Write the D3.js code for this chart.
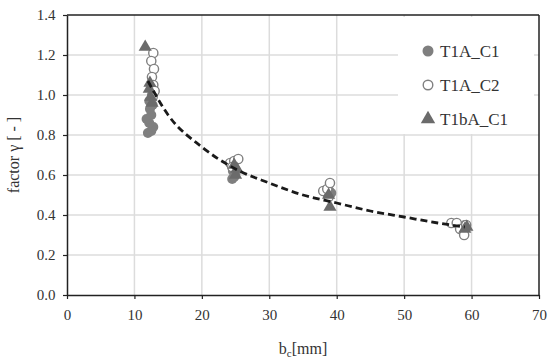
<!DOCTYPE html>
<html><head><meta charset="utf-8">
<script src="https://cdn.jsdelivr.net/npm/d3@7"></script>
<style>body{margin:0;background:#fff}svg{display:block}</style>
</head><body>
<svg id="c" width="550" height="362"></svg>
<script>
const xTicks = [0,10,20,30,40,50,60,70];
const yTicks = [0,0.2,0.4,0.6,0.8,1.0,1.2,1.4];
const seriesNames = ["T1A_C1","T1A_C2","T1bA_C1"];
const t1aC1 = [[12.0,0.81],[12.5,0.82],[12.8,0.84],[12.2,0.86],[11.8,0.88],[12.5,0.90],[12.3,0.93],[12.7,0.95],[12.2,0.97],[12.6,1.00],
  [24.5,0.58],[24.8,0.59],[25.0,0.61],[24.6,0.62],
  [38.7,0.50],[39.2,0.51],[38.9,0.52],
  [58.6,0.34],[59.0,0.35]];
const t1aC2 = [[12.8,1.21],[12.5,1.17],[12.9,1.13],[12.6,1.09],[12.8,1.05],[13.0,1.02],[12.7,0.99],
  [24.2,0.66],[24.8,0.67],[25.4,0.68],[24.5,0.64],
  [38.0,0.52],[38.6,0.53],[39.0,0.56],[38.8,0.49],
  [57.0,0.36],[57.8,0.36],[58.3,0.33],[58.9,0.30],[59.2,0.35]];
const t1bAC1 = [[11.6,1.24],[12.2,1.03],[12.4,0.99],[12.6,0.96],[12.3,1.06],
  [25.0,0.60],[25.2,0.63],[24.8,0.65],
  [39.0,0.44],[38.8,0.50],
  [59.0,0.33],[59.3,0.34]];
const trend = [[12,1.07],[15,0.90],[20,0.74],[25,0.63],[30,0.56],[35,0.50],[40,0.46],[45,0.42],[50,0.39],[55,0.36],[59,0.34]];

const svg = d3.select("#c");
const L=67,R=539,T=15,B=295;
const x = d3.scaleLinear().domain([0,70]).range([L,R]);
const y = d3.scaleLinear().domain([0,1.4]).range([B,T]);
const font = "'Liberation Serif','DejaVu Serif',serif";

// grid
svg.append("g").selectAll("line").data(xTicks.slice(1,-1)).join("line")
  .attr("x1",d=>x(d)).attr("x2",d=>x(d)).attr("y1",T).attr("y2",B)
  .attr("stroke","#dcdcdc").attr("stroke-width",1.5);
svg.append("g").selectAll("line").data(yTicks.slice(1,-1)).join("line")
  .attr("x1",L).attr("x2",R).attr("y1",d=>y(d)).attr("y2",d=>y(d))
  .attr("stroke","#dcdcdc").attr("stroke-width",1.5);

// legend background
svg.append("rect").attr("x",398).attr("y",T+2).attr("width",R-398-5).attr("height",117).attr("fill","#fff");

// axes
const xa = svg.append("g").attr("transform",`translate(0,${B})`)
  .call(d3.axisBottom(x).tickValues(xTicks).tickFormat(d3.format("d")).tickSize(4).tickSizeOuter(0));
const ya = svg.append("g").attr("transform",`translate(${L},0)`)
  .call(d3.axisLeft(y).tickValues(yTicks).tickFormat(d3.format(".1f")).tickSize(4).tickSizeOuter(0));
[xa,ya].forEach(a=>{
  a.select(".domain").attr("stroke","#222").attr("stroke-width",1.5);
  a.selectAll(".tick line").attr("stroke","#222").attr("stroke-width",1.2);
  a.selectAll("text").attr("font-family",font).attr("font-size",15).attr("fill","#333");
});
xa.selectAll("text").attr("dy","1.2em");
ya.selectAll("text").attr("dx","-0.3em");
// frame top/right
svg.append("line").attr("x1",L).attr("x2",R).attr("y1",T).attr("y2",T).attr("stroke","#222").attr("stroke-width",1.5);
svg.append("line").attr("x1",R).attr("x2",R).attr("y1",T).attr("y2",B).attr("stroke","#222").attr("stroke-width",1.5);

// data
const tri = d3.symbol().type(d3.symbolTriangle).size(75);
svg.append("g").selectAll("circle").data(t1aC1).join("circle")
  .attr("cx",d=>x(d[0])).attr("cy",d=>y(d[1])).attr("r",5).attr("fill","#7f7f7f");
svg.append("g").selectAll("circle").data(t1aC2).join("circle")
  .attr("cx",d=>x(d[0])).attr("cy",d=>y(d[1])).attr("r",4.6).attr("fill","#fff").attr("stroke","#808080").attr("stroke-width",1.4);
svg.append("g").selectAll("path").data(t1bAC1).join("path")
  .attr("transform",d=>`translate(${x(d[0])},${y(d[1])})`).attr("d",tri).attr("fill","#6b6b6b");

// trend
svg.append("path").datum(trend)
  .attr("d",d3.line().x(d=>x(d[0])).y(d=>y(d[1])).curve(d3.curveMonotoneX))
  .attr("fill","none").attr("stroke","#1a1a1a").attr("stroke-width",2.8).attr("stroke-dasharray","7,4");

// legend
const lg = svg.append("g");
const rows = [51,85,119];
lg.append("circle").attr("cx",428).attr("cy",rows[0]).attr("r",5.5).attr("fill","#7f7f7f");
lg.append("circle").attr("cx",428).attr("cy",rows[1]).attr("r",4.8).attr("fill","#fff").attr("stroke","#808080").attr("stroke-width",1.4);
lg.append("path").attr("transform",`translate(428,${rows[2]})`).attr("d",d3.symbol().type(d3.symbolTriangle).size(90)).attr("fill","#6b6b6b");
lg.selectAll("text").data(seriesNames).join("text")
  .attr("x",440).attr("y",(d,i)=>rows[i]).attr("dy","0.35em")
  .attr("font-family",font).attr("font-size",17).attr("fill","#333").text(d=>d);

// axis titles
svg.append("text").attr("transform",`translate(19,${(T+B)/2}) rotate(-90)`).attr("text-anchor","middle")
  .attr("font-family",font).attr("font-size",16).attr("fill","#333").text("factor γ [ - ]");
const xt = svg.append("text").attr("x",(L+R)/2).attr("y",354).attr("text-anchor","middle")
  .attr("font-family",font).attr("font-size",16).attr("fill","#333");
xt.append("tspan").text("b");
xt.append("tspan").attr("font-size",11).attr("dy",3).text("c");
xt.append("tspan").attr("dy",-3).text("[mm]");
</script>
</body></html>
